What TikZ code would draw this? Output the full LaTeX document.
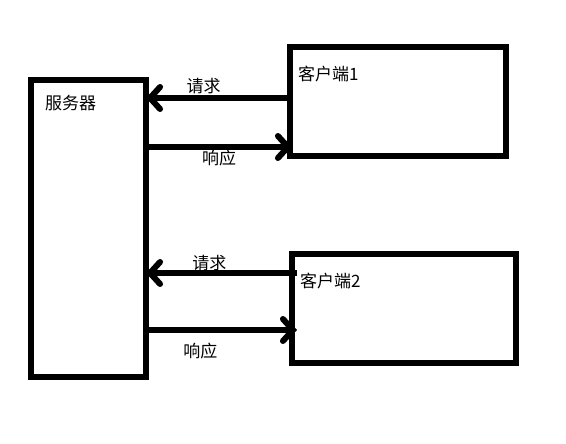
\documentclass[tikz,border=0pt]{standalone}
\usepackage{fontspec}
\newfontfamily\cjk{Noto Sans CJK SC}
\usetikzlibrary{arrows.meta, positioning}

\begin{document}
\begin{tikzpicture}[x=1pt, y=-1pt,
    box/.style={draw, line width=6pt, inner sep=0pt, outer sep=0pt, anchor=north west},
    flow/.style={line width=6pt, -{Straight Barb[length=10pt, width=22pt, line cap=round]}},
    lbl/.style={font=\cjk\fontsize{17}{20}\selectfont, inner sep=0pt}]
  \useasboundingbox[fill=white] (0,0) rectangle (566,444);

  % boxes
  \node[box, minimum width=115pt, minimum height=297pt] (server) at (31,80) {};
  \node[box, minimum width=216pt, minimum height=109pt] (client1) at (290,47) {};
  \node[box, minimum width=224pt, minimum height=109pt] (client2) at (292,254) {};

  % box titles
  \node[lbl, anchor=west] (servername) at ([shift={(14,23)}]server.north west) {服务器};
  \node[lbl, anchor=west] (client1name) at ([shift={(8,27)}]client1.north west) {客户端1};
  \node[lbl, anchor=west] (client2name) at ([shift={(8,27)}]client2.north west) {客户端2};

  % requests and responses
  \draw[flow] (client1.west |- 0,98) -- (server.east |- 0,98)
    node[lbl, pos=.6, above=1pt] (req1) {请求};
  \draw[flow] (server.east |- 0,147) -- ([xshift=2pt]client1.west |- 0,147)
    node[lbl, pos=.5, below=0pt] (resp1) {响应};
  \draw[flow] ([xshift=5pt]client2.west |- 0,273) -- (server.east |- 0,273)
    node[lbl, pos=.58, above=-1pt] (req2) {请求};
  \draw[flow] (server.east |- 0,330) -- ([xshift=5pt]client2.west |- 0,330)
    node[lbl, pos=.36, below=10pt] (resp2) {响应};
\end{tikzpicture}
\end{document}
